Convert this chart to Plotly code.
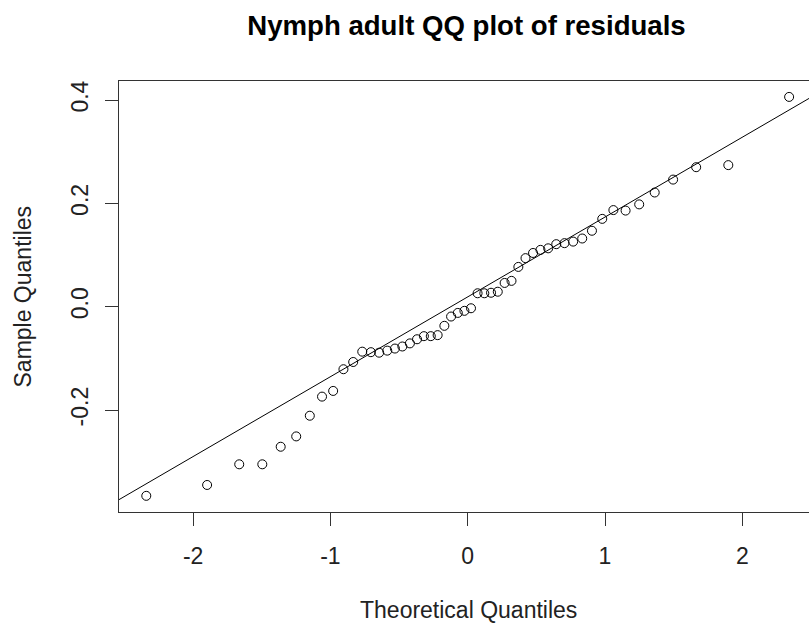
import plotly.graph_objects as go

# Theoretical quantiles (x)
theoretical = [-2.341, -1.898, -1.664, -1.496, -1.362, -1.249, -1.150, -1.061, -0.980, -0.905,
               -0.834, -0.768, -0.705, -0.645, -0.586, -0.530, -0.476, -0.421, -0.369, -0.319,
               -0.269, -0.219, -0.170, -0.121, -0.072, -0.024, 0.024, 0.072, 0.121, 0.170,
               0.219, 0.269, 0.319, 0.369, 0.421, 0.476, 0.530, 0.586, 0.645, 0.705,
               0.768, 0.834, 0.905, 0.980, 1.061, 1.150, 1.249, 1.362, 1.496, 1.664,
               1.898, 2.341]
# Sample quantiles (y)
sample = [-0.366, -0.345, -0.305, -0.305, -0.271, -0.251, -0.211, -0.174, -0.163, -0.121,
          -0.107, -0.087, -0.088, -0.089, -0.085, -0.081, -0.077, -0.071, -0.063, -0.057,
          -0.057, -0.055, -0.037, -0.019, -0.012, -0.008, -0.003, 0.026, 0.026, 0.027,
          0.029, 0.046, 0.050, 0.077, 0.094, 0.104, 0.110, 0.113, 0.121, 0.123,
          0.126, 0.132, 0.147, 0.170, 0.187, 0.186, 0.198, 0.221, 0.246, 0.270,
          0.274, 0.406]
# Reference line (qqline)
line_intercept = 0.019
line_slope = 0.1545
line_x = [-3.0, 3.0]

x_ticks = [-2, -1, 0, 1, 2]
x_ticktext = ["-2", "-1", "0", "1", "2"]
y_ticks = [-0.2, 0.0, 0.2, 0.4]
y_ticktext = ["-0.2", "0.0", "0.2", "0.4"]

FONT = "Liberation Sans, Arial, sans-serif"
INK = "#222222"

fig = go.Figure()
fig.add_trace(go.Scatter(
    x=theoretical, y=sample, mode="markers",
    marker=dict(symbol="circle-open", size=9, color="black", line=dict(width=1, color="black")),
    showlegend=False, hoverinfo="x+y"))
fig.add_trace(go.Scatter(
    x=line_x, y=[line_intercept + line_slope * v for v in line_x], mode="lines",
    line=dict(color="black", width=1), showlegend=False, hoverinfo="skip"))

fig.update_layout(
    width=809, height=626,
    margin=dict(l=119, r=0, t=81, b=114),
    paper_bgcolor="white", plot_bgcolor="white",
    font=dict(family=FONT, size=23, color=INK),
    title=dict(text="<b>Nymph adult QQ plot of residuals</b>",
               font=dict(family=FONT, size=27.6, color="black"),
               xref="paper", x=0.5036, xanchor="center",
               yref="container", y=1 - 25 / 626, yanchor="middle"),
    xaxis=dict(range=[-2.5397, 2.4858], tickvals=x_ticks, ticktext=x_ticktext,
               ticks="outside", ticklen=13,
               tickcolor="#333333", tickwidth=1, showline=True, mirror=True,
               linecolor="#333333", linewidth=1, showgrid=False, zeroline=False,
               ticklabelstandoff=10),
    yaxis=dict(range=[-0.3973, 0.4368], tickvals=y_ticks, ticktext=y_ticktext,
               ticks="outside", ticklen=13, tickcolor="#333333", tickwidth=1,
               tickangle=-90, showline=True, mirror=False, linecolor="#333333",
               linewidth=1, showgrid=False, zeroline=False, ticklabelstandoff=8),
    annotations=[
        dict(text="Theoretical Quantiles", xref="paper", yref="paper",
             x=(468 - 119) / 690, y=0, yshift=-98, xanchor="center", yanchor="middle",
             showarrow=False, font=dict(family=FONT, size=23, color=INK)),
        dict(text="Sample Quantiles", xref="paper", yref="paper",
             x=0, xshift=-(119 - 22), y=0.5, xanchor="center", yanchor="middle",
             textangle=-90, showarrow=False, font=dict(family=FONT, size=23, color=INK)),
    ],
)

fig.write_html("out.html")
